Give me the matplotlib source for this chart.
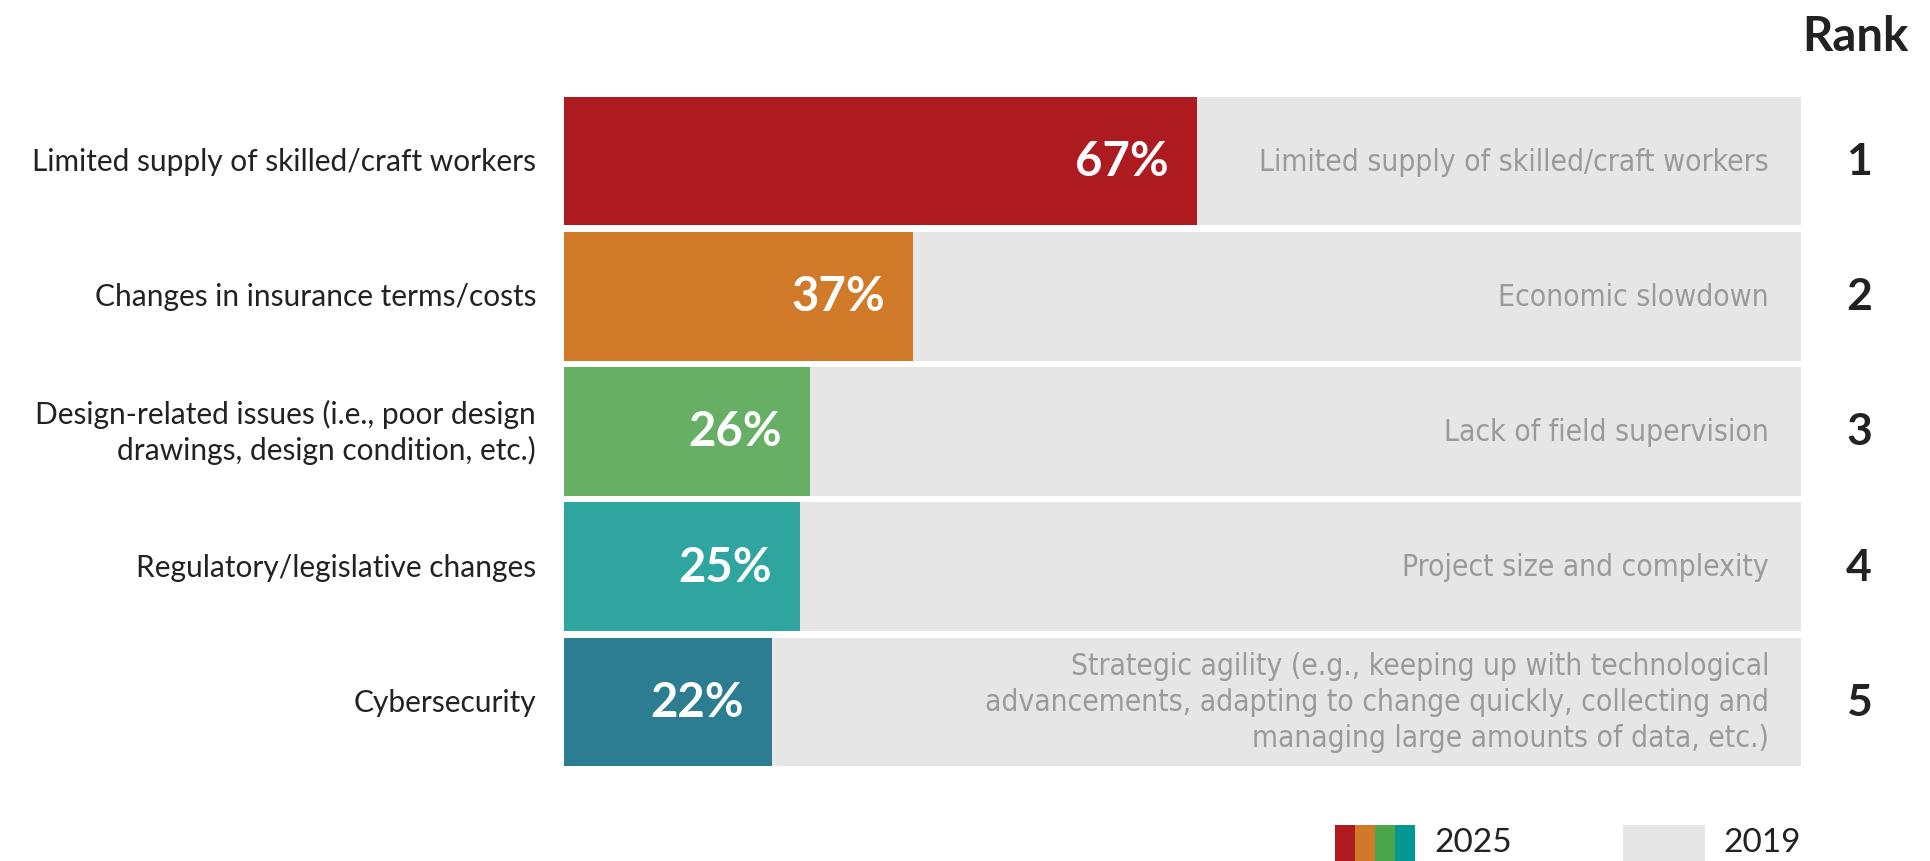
import matplotlib
matplotlib.use("Agg")
import matplotlib.pyplot as plt
import matplotlib.transforms as mtransforms
from matplotlib.patches import Rectangle

# 2025 survey: top risks and their share of respondents
risks_2025 = [
    "Limited supply of skilled/craft workers",
    "Changes in insurance terms/costs",
    "Design-related issues (i.e., poor design\ndrawings, design condition, etc.)",
    "Regulatory/legislative changes",
    "Cybersecurity",
]
shares_2025 = [67, 37, 26, 25, 22]

# 2019 ranking for the same positions
risks_2019 = [
    "Limited supply of skilled/craft workers",
    "Economic slowdown",
    "Lack of field supervision",
    "Project size and complexity",
    "Strategic agility (e.g., keeping up with technological\nadvancements, adapting to change quickly, collecting and\nmanaging large amounts of data, etc.)",
]
ranks = [1, 2, 3, 4, 5]

bar_colors = ["#AD1A20", "#D17A29", "#68AF66", "#2FA5A0", "#2D7D92"]
legend_colors = ["#AE1A20", "#D07A29", "#4AA54B", "#009891"]
gray = "#E6E6E6"
x_max = 131

plt.rcParams["font.family"] = ["Lato", "DejaVu Sans"]

fig = plt.figure(figsize=(19.3, 8.62), dpi=100)
ax = fig.add_axes([564 / 1930, 1 - 767 / 862, 1237 / 1930, 669 / 862])

rows = list(range(len(shares_2025)))
ax.barh(rows, [x_max] * len(rows), height=0.95, color=gray, edgecolor="none")
ax.barh(rows, shares_2025, height=0.95, color=bar_colors, edgecolor="none")
ax.set_xlim(0, x_max)
ax.set_ylim(4.475, -0.475)
ax.axis("off")

for i, (v, name, old) in enumerate(zip(shares_2025, risks_2025, risks_2019)):
    ax.annotate(f"{v}%", (v, i), xytext=(-20, 0), textcoords="offset points",
                ha="right", va="center", color="white", fontsize=34,
                fontweight="bold")
    ax.annotate(name, (0, i), xytext=(-20, 0), textcoords="offset points",
                ha="right", va="center", color="#222222", fontsize=21.5,
                linespacing=1.3, multialignment="right")
    ax.annotate(old, (x_max, i), xytext=(-23, 0), textcoords="offset points",
                ha="right", va="center", color="#9A9A9A", fontsize=21.5,
                linespacing=1.3, multialignment="right",
                family="DejaVu Sans", fontstretch="condensed")

# rank column on the right
blend = mtransforms.blended_transform_factory(fig.transFigure, ax.transData)
for i, r in enumerate(ranks):
    ax.text(1859 / 1930, i, str(r), transform=blend, ha="center", va="center",
            fontsize=32, fontweight="bold", color="#222222")
fig.text(1855 / 1930, 1 - 37 / 862, "Rank", ha="center", va="center",
         fontsize=34, fontweight="bold", color="#222222")

# legend: striped swatch for 2025, gray swatch for 2019
sw_w = 80 / 4
for k, c in enumerate(legend_colors):
    fig.patches.append(Rectangle(((1335 + k * sw_w) / 1930, 0), sw_w / 1930,
                                 (862 - 826) / 862, transform=fig.transFigure,
                                 color=c, lw=0))
fig.patches.append(Rectangle((1623 / 1930, 0), 82 / 1930, (862 - 826) / 862,
                             transform=fig.transFigure, color=gray, lw=0))
fig.text(1434 / 1930, 1 - 843 / 862, "2025", ha="left", va="center",
         fontsize=24, color="#222222")
fig.text(1723 / 1930, 1 - 843 / 862, "2019", ha="left", va="center",
         fontsize=24, color="#222222")

fig.savefig("out.png", dpi=100)
